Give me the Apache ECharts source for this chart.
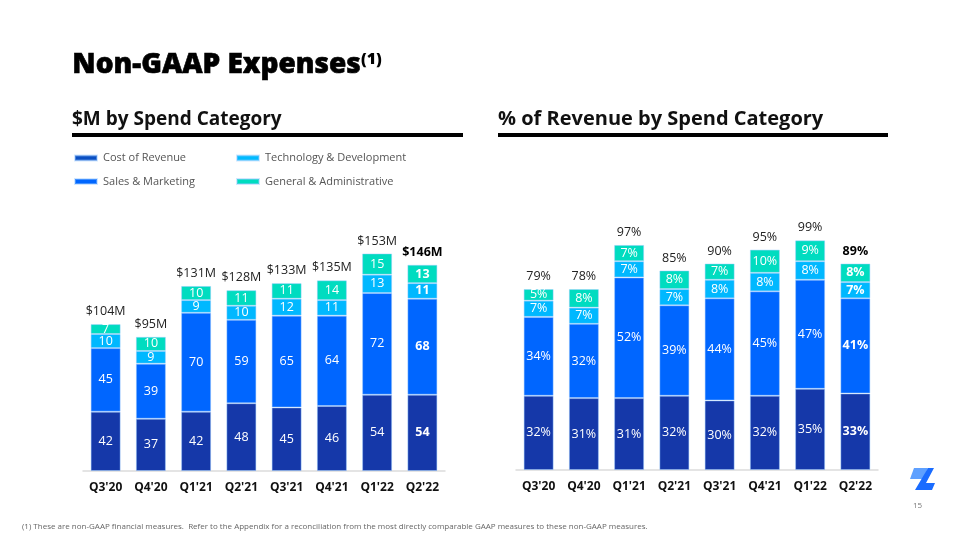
<!DOCTYPE html>
<html>
<head>
<meta charset="utf-8">
<script src="https://cdn.jsdelivr.net/npm/echarts@6/dist/echarts.min.js"></script>
<style>
html,body{margin:0;padding:0;background:#fff;}
#c{width:960px;height:540px;}
</style>
</head>
<body>
<div id="c"></div>
<script>
const categories = ["Q3'20","Q4'20","Q1'21","Q2'21","Q3'21","Q4'21","Q1'22","Q2'22"];
const seriesNames = ['Cost of Revenue','Sales & Marketing','Technology & Development','General & Administrative'];

// $M by spend category
const costRevenueM = [42,37,42,48,45,46,54,54];
const salesMarketingM = [45,39,70,59,65,64,72,68];
const techDevM = [10,9,9,10,12,11,13,11];
const genAdminM = [7,10,10,11,11,14,15,13];
const totalsM = ['$104M','$95M','$131M','$128M','$133M','$135M','$153M','$146M'];

// % of revenue by spend category
const costRevenuePct = [32,31,31,32,30,32,35,33];
const salesMarketingPct = [34,32,52,39,44,45,47,41];
const techDevPct = [7,7,7,7,8,8,8,7];
const genAdminPct = [5,8,7,8,7,10,9,8];
const totalsPct = ['79%','78%','97%','85%','90%','95%','99%','89%'];

const colors = ['#1538a9','#0066ff','#00b8ff','#00dcc0'];
const legendColors = ['#0b4fc2','#0066ff','#00bbff','#00dcc0'];
const FONT = '"Open Sans", "Noto Sans", sans-serif';
const last = categories.length - 1;

function dataWithBoldLast(arr){
  return arr.map((v,i)=> i===last ? {value:v, label:{fontWeight:'bold'}} : v);
}
function barSeries(name, arr, idx, axis, stack, suffix){
  return {
    name: name, type:'bar', stack: stack, xAxisIndex: axis, yAxisIndex: axis,
    barWidth: 30,
    data: dataWithBoldLast(arr),
    itemStyle:{color: colors[idx], borderColor:'rgba(150,200,255,0.45)', borderWidth:1},
    label:{show:true, position:'inside', color:'#fff', fontSize:12.5, fontFamily:FONT,
      formatter: p => p.value + suffix},
    emphasis:{disabled:true}
  };
}
function totalSeries(labels, axis, stack){
  return {
    type:'bar', stack: stack, xAxisIndex: axis, yAxisIndex: axis, barWidth:30,
    data: labels.map((t,i)=> i===last ? {value:0, label:{fontWeight:'bold', color:'#000'}} : 0),
    itemStyle:{color:'transparent'},
    label:{show:true, position:'top', distance:6, color:'#222', fontSize:12.5, fontFamily:FONT,
      formatter: p => labels[p.dataIndex]},
    emphasis:{disabled:true}, silent:true
  };
}

const chart = echarts.init(document.getElementById('c'), null, {renderer:'canvas'});
const xAxisCommon = {
  type:'category', data: categories,
  axisLine:{show:true, lineStyle:{color:'#dcdcdc', width:1.5}},
  axisTick:{show:false},
  axisLabel:{color:'#111', fontWeight:'bold', fontSize:12, fontFamily:FONT, margin:11}
};
const yAxisCommon = {type:'value', show:false, min:0, splitLine:{show:false}};
const legendCommon = {orient:'vertical', itemWidth:22, itemHeight:5, itemGap:9.5,
  icon:'rect', selectedMode:false, padding:0,
  textStyle:{color:'#555', fontSize:11, fontFamily:FONT, padding:[0,0,0,1], lineHeight:14}};

chart.setOption({
  animation:false,
  textStyle:{fontFamily:FONT},
  grid:[
    {left:83, right:515, top:245, bottom:69},
    {left:516, right:82, top:238, bottom:70}
  ],
  xAxis:[Object.assign({gridIndex:0}, xAxisCommon), Object.assign({gridIndex:1}, xAxisCommon)],
  yAxis:[Object.assign({gridIndex:0, max:160}, yAxisCommon), Object.assign({gridIndex:1, max:100}, yAxisCommon)],
  legend:[
    Object.assign({left:74, top:151,
     data:[{name:seriesNames[0], itemStyle:{color:legendColors[0]}},{name:seriesNames[1], itemStyle:{color:legendColors[1]}}]}, legendCommon),
    Object.assign({left:236, top:151,
     data:[{name:seriesNames[2], itemStyle:{color:legendColors[2]}},{name:seriesNames[3], itemStyle:{color:legendColors[3]}}]}, legendCommon)
  ],
  series:[
    barSeries(seriesNames[0], costRevenueM, 0, 0, 'L', ''),
    barSeries(seriesNames[1], salesMarketingM, 1, 0, 'L', ''),
    barSeries(seriesNames[2], techDevM, 2, 0, 'L', ''),
    barSeries(seriesNames[3], genAdminM, 3, 0, 'L', ''),
    totalSeries(totalsM, 0, 'L'),
    barSeries(seriesNames[0], costRevenuePct, 0, 1, 'R', '%'),
    barSeries(seriesNames[1], salesMarketingPct, 1, 1, 'R', '%'),
    barSeries(seriesNames[2], techDevPct, 2, 1, 'R', '%'),
    barSeries(seriesNames[3], genAdminPct, 3, 1, 'R', '%'),
    totalSeries(totalsPct, 1, 'R')
  ],
  graphic:[
    {type:'text', left:72, top:51, style:{text:'Non-GAAP Expenses', fill:'#000', font:'800 28px '+FONT, stroke:'#000', lineWidth:0.6}},
    {type:'text', left:361, top:51, style:{text:'(1)', fill:'#000', font:'800 16px '+FONT}},
    {type:'text', left:72, top:110, style:{text:'$M by Spend Category', fill:'#111', font:'bold 19px '+FONT}},
    {type:'text', left:498, top:109, style:{text:'% of Revenue by Spend Category', fill:'#111', font:'bold 20px '+FONT}},
    {type:'rect', shape:{x:72, y:133, width:391, height:4}, style:{fill:'#000'}},
    {type:'rect', shape:{x:498, y:133, width:390, height:4}, style:{fill:'#000'}},
    {type:'text', left:22, top:523, style:{text:'(1) These are non-GAAP financial measures.  Refer to the Appendix for a reconciliation from the most directly comparable GAAP measures to these non-GAAP measures.', fill:'#666', font:'8px '+FONT}},
    {type:'text', left:913, top:502, style:{text:'15', fill:'#777', font:'8px '+FONT}},
    {type:'polygon', shape:{points:[[914,468],[928,468],[923,479],[910,479]]}, style:{fill:'#5ea0ff'}},
    {type:'polygon', shape:{points:[[928,468],[934,468],[926,483],[935,483],[932,490],[915,490]]}, style:{fill:'#1a6cff'}}
  ]
});
</script>
</body>
</html>
